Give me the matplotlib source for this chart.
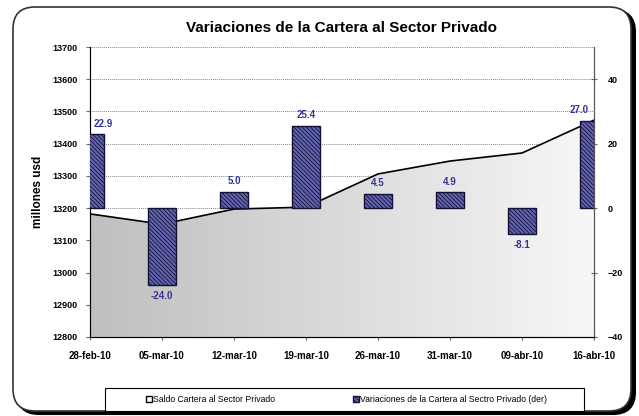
import numpy as np
import matplotlib.pyplot as plt
from matplotlib.colors import LinearSegmentedColormap
from matplotlib.patches import FancyBboxPatch, Rectangle, Patch, Polygon

fechas = ["28-feb-10", "05-mar-10", "12-mar-10", "19-mar-10",
          "26-mar-10", "31-mar-10", "09-abr-10", "16-abr-10"]
saldo = [13182, 13150, 13197, 13203, 13306, 13346, 13371, 13473]
variacion = [22.9, -24.0, 5.0, 25.4, 4.5, 4.9, -8.1, 27.0]

plt.rcParams['font.family'] = ['Liberation Sans', 'DejaVu Sans']
plt.rcParams['hatch.color'] = '#1c1c50'
plt.rcParams['hatch.linewidth'] = 0.6

fig = plt.figure(figsize=(6.39, 4.16), dpi=100)

# marco redondeado con sombra
sombra = FancyBboxPatch((0.17, 0.02), 6.18, 4.04, boxstyle="round,pad=0,rounding_size=0.22",
                        transform=fig.dpi_scale_trans, facecolor='black', edgecolor='black',
                        lw=1.5, zorder=-2)
marco = FancyBboxPatch((0.13, 0.05), 6.18, 4.04, boxstyle="round,pad=0,rounding_size=0.22",
                       transform=fig.dpi_scale_trans, facecolor='white', edgecolor='#333333',
                       lw=1.2, zorder=-1)
fig.patches.extend([sombra, marco])

ax = fig.add_axes([0.1408, 0.19, 0.7888, 0.697])
ax.set_facecolor('none')
x = np.arange(len(fechas))

ax.set_xlim(0, len(fechas) - 1)
ax.set_ylim(12800, 13700)
ax.set_yticks(np.arange(12800, 13701, 100))
ax.yaxis.grid(True, color='#888888', linestyle=(0, (1, 1)), linewidth=0.7)
ax.set_axisbelow(True)

# area con degradado
ax.plot(x, saldo, color='black', lw=1.2, zorder=3)
verts = [(0, 12800)] + list(zip(x, saldo)) + [(x[-1], 12800)]
poly = Polygon(verts, closed=True, facecolor='none', edgecolor='none')
ax.add_patch(poly)
grad = np.linspace(0.0, 1.0, 256).reshape(1, -1)
cmap = LinearSegmentedColormap.from_list('g', ['#bfbfbf', '#f7f7f7'])
img = ax.imshow(grad, cmap=cmap, aspect='auto', extent=[0, x[-1], 12800, 13700], zorder=2)
img.set_clip_path(poly)

ax.set_xticks(x)
ax.set_xticklabels(fechas, fontsize=7, fontweight='bold')
for lbl in ax.get_yticklabels():
    lbl.set_fontsize(6.5)
    lbl.set_fontweight('bold')
ax.tick_params(axis='x', length=4, direction='inout', pad=8, color='#666666')
ax.tick_params(axis='y', length=3, pad=6, color='#666666')
ax.spines['top'].set_visible(False)
for s in ['left', 'bottom', 'right']:
    ax.spines[s].set_color('#555555')
ax.set_ylabel('millones usd', fontsize=8.5, fontweight='bold', labelpad=6)

ax2 = ax.twinx()
ax2.set_ylim(-40, 50)
ax2.set_yticks([-40, -20, 0, 20, 40])
ax2.bar(x, variacion, width=0.4, facecolor='#6464b0', edgecolor='#111133',
        hatch='\\\\\\\\\\\\\\\\', linewidth=1.0, zorder=4)
n = len(fechas)
for i, (xi, v) in enumerate(zip(x, variacion)):
    off = 1.8 if v > 0 else -1.8
    dx = 0.18 if i == 0 else (-0.2 if i == n - 1 else 0)
    ax2.text(xi + dx, v + off, f"{v:.1f}", ha='center', va='bottom' if v > 0 else 'top',
             fontsize=7, fontweight='bold', color='#333399', zorder=5)
ax2.set_xlim(0, n - 1)
for lbl in ax2.get_yticklabels():
    lbl.set_fontsize(6.5)
    lbl.set_fontweight('bold')
ax2.tick_params(axis='y', length=4, direction='inout', pad=8, color='#666666')
ax2.spines['top'].set_visible(False)
ax2.spines['right'].set_color('#555555')

fig.text(0.535, 0.932, 'Variaciones de la Cartera al Sector Privado', ha='center', va='center',
         fontsize=11, fontweight='bold')

# leyenda
caja = Rectangle((105 / 639, 1 - 411 / 416), 479 / 639, 23 / 416, transform=fig.transFigure,
                 facecolor='white', edgecolor='black', lw=0.8, zorder=1)
fig.patches.append(caja)
handles = [Patch(facecolor='white', edgecolor='black', label='Saldo Cartera al Sector Privado'),
           Patch(facecolor='#6464b0', edgecolor='#111133', hatch='\\\\\\\\\\\\\\\\',
                 label='Variaciones de la Cartera al Sectro Privado (der)')]
leg = fig.legend(handles=handles, loc='center', bbox_to_anchor=(346.5 / 639, 1 - 399.5 / 416),
                 ncol=2, frameon=False, fontsize=6.2, handlelength=0.7, handleheight=0.7,
                 handletextpad=0.1, columnspacing=9.0)
leg.set_zorder(3)

fig.savefig('out.png', dpi=100)
